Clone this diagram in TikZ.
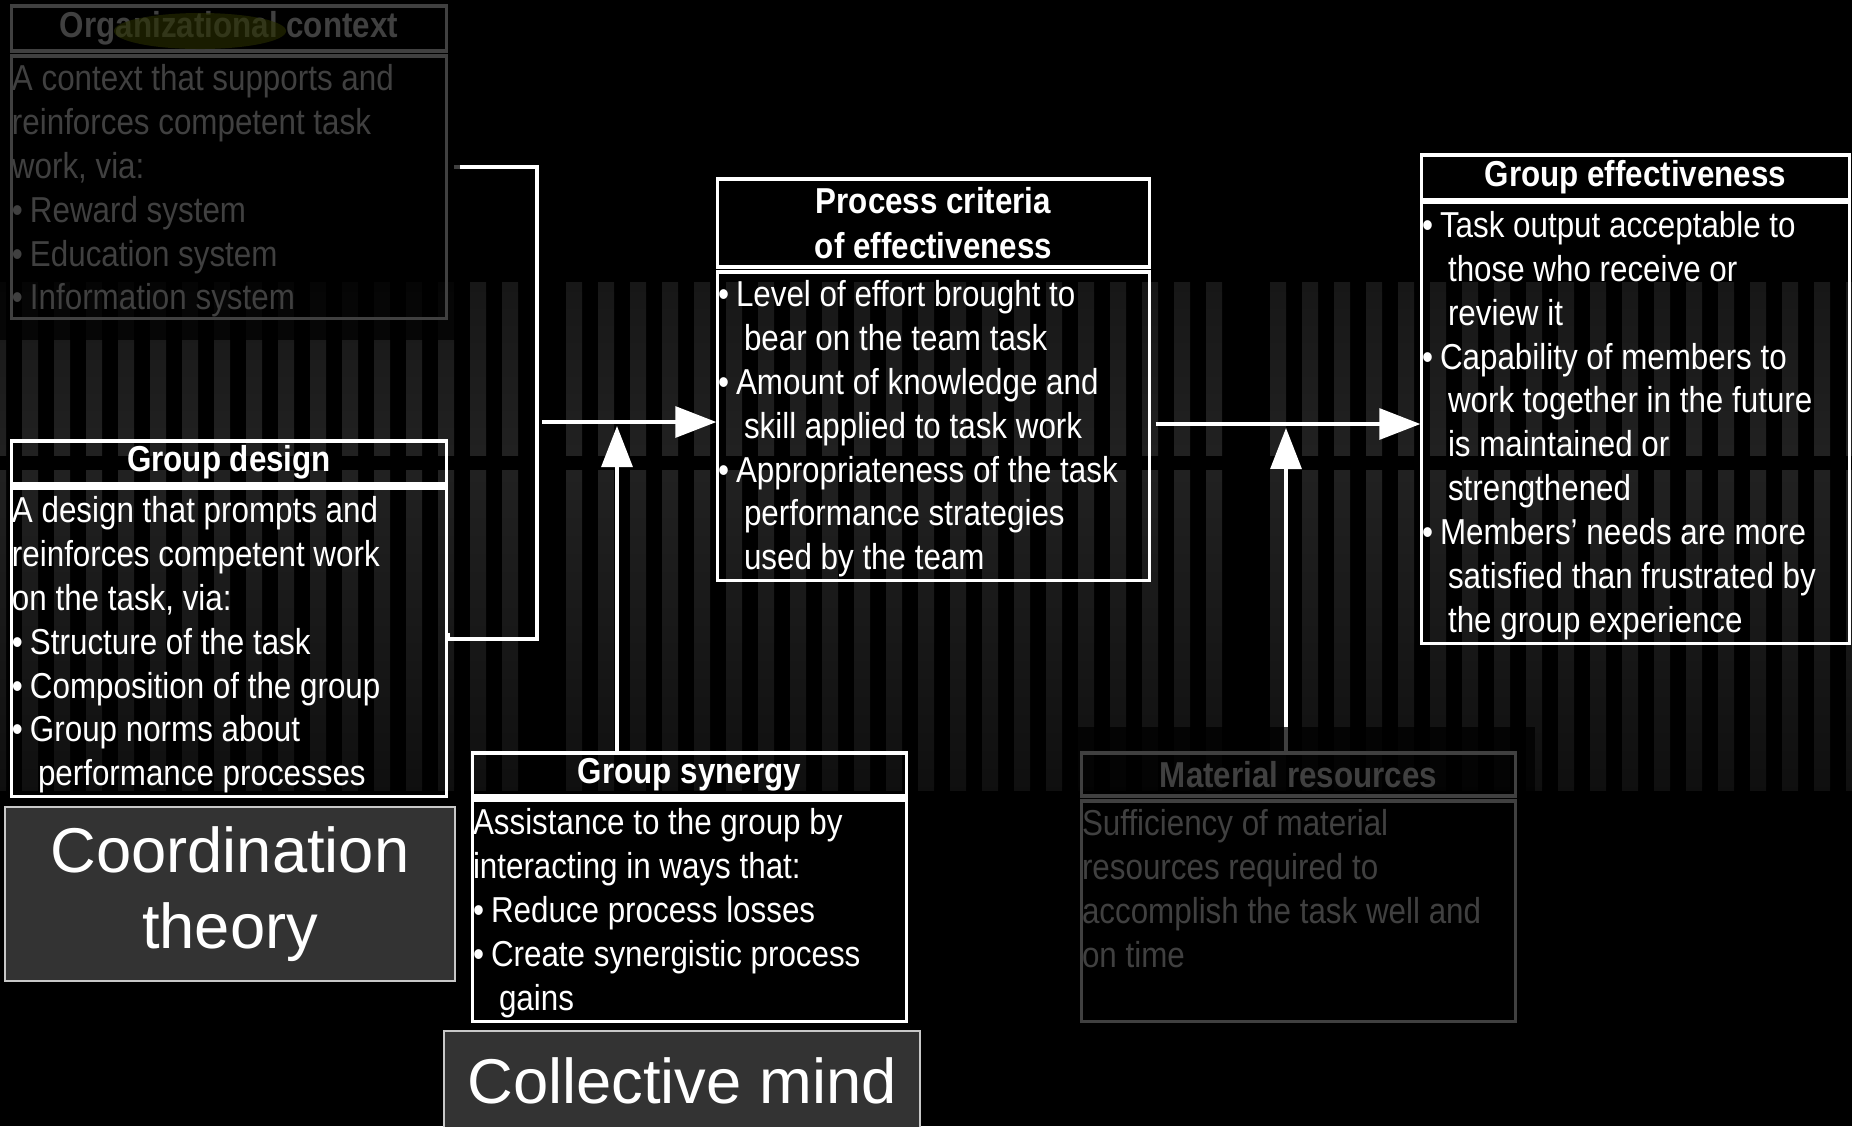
\documentclass[tikz,border=0pt]{standalone}
\usepackage{fontspec}
\setmainfont{Liberation Sans}[FakeStretch=0.87]
\newfontfamily\wideface{Liberation Sans}
\usetikzlibrary{arrows.meta}
\definecolor{panelgray}{HTML}{333333}
\definecolor{panelline}{HTML}{C8C8C8}
\definecolor{marker}{HTML}{A8C000}
\newcommand{\itemdot}{\makebox[1.8mm][l]{\textbullet}}
\newcommand{\itemgap}{\hspace*{2.6mm}}

\begin{document}
\begin{tikzpicture}[x=0.01cm,y=-0.01cm]

    \tikzset{
      hdr/.style={
        draw=white,
        line width=0.9pt,
        inner sep=0pt,
        text=white,
        align=center,
        font=\fontsize{10.25}{12.75}\selectfont\bfseries,
      },
      bodybox/.style={
        draw=white,
        line width=0.9pt,
        inner sep=0pt,
      },
      txt/.style={
        text=white,
        align=left,
        inner sep=0pt,
        anchor=north west,
        font=\fontsize{10.25}{12.5}\selectfont,
      },
      panel/.style={
        fill=panelgray,
        draw=panelline,
        line width=0.4pt,
        text=white,
        align=center,
        font=\wideface\fontsize{18}{21.8}\selectfont,
      },
      wire/.style={draw=white, line width=0.9pt},
      arr/.style={wire, -{Triangle[length=0.41cm,width=0.31cm]}},
    }
    \useasboundingbox (0,0) rectangle (1852,1126);
    \fill[black] (0,0) rectangle (1852,1126);
    \clip (0,0) rectangle (1852,1126);

    % striped backdrop
    \foreach \k in {-1,...,57}{
      \ifnum\k=16 \else\ifnum\k=38 \else
        \shade[top color=black!91, bottom color=black!87] (22+32*\k,282) rectangle ++(16,173);
        \shade[top color=black!87, bottom color=black!94] (22+32*\k,470) rectangle ++(16,320);
      \fi\fi
    }

    \node[hdr, minimum width=4.34cm, minimum height=0.45cm] (oc-title) at (229,28.5) {Organizational context};
    \node[bodybox, minimum width=4.34cm, minimum height=2.62cm] (oc-body) at (229,187) {};
    \node[txt] (oc-text) at ([shift={(1,9)}]oc-body.north west) {A context that supports and\\reinforces competent task\\work, via:\\\itemdot Reward system\\\itemdot Education system\\\itemdot Information system};

    \node[hdr, minimum width=4.34cm, minimum height=0.43cm] (gd-title) at (229,462.5) {Group design};
    \node[bodybox, minimum width=4.34cm, minimum height=3.08cm] (gd-body) at (229,642) {};
    \node[txt] (gd-text) at ([shift={(1,9)}]gd-body.north west) {A design that prompts and\\reinforces competent work\\on the task, via:\\\itemdot Structure of the task\\\itemdot Composition of the group\\\itemdot Group norms about\\\itemgap performance processes};

    \node[hdr, minimum width=4.31cm, minimum height=0.88cm] (pc-title) at (933.5,223) {Process criteria\\of effectiveness};
    \node[bodybox, minimum width=4.31cm, minimum height=3.08cm] (pc-body) at (933.5,426) {};
    \node[txt] (pc-text) at ([shift={(1,9)}]pc-body.north west) {\itemdot Level of effort brought to\\\itemgap bear on the team task\\\itemdot Amount of knowledge and\\\itemgap skill applied to task work\\\itemdot Appropriateness of the task\\\itemgap performance strategies\\\itemgap used by the team};

    \node[hdr, minimum width=4.27cm, minimum height=0.45cm] (ge-title) at (1635.5,177.5) {Group effectiveness};
    \node[bodybox, minimum width=4.27cm, minimum height=4.40cm] (ge-body) at (1635.5,423) {};
    \node[txt] (ge-text) at ([shift={(1,9)}]ge-body.north west) {\itemdot Task output acceptable to\\\itemgap those who receive or\\\itemgap review it\\\itemdot Capability of members to\\\itemgap work together in the future\\\itemgap is maintained or\\\itemgap strengthened\\\itemdot Members’ needs are more\\\itemgap satisfied than frustrated by\\\itemgap the group experience};

    \node[hdr, minimum width=4.33cm, minimum height=0.43cm] (gs-title) at (689.5,774.5) {Group synergy};
    \node[bodybox, minimum width=4.33cm, minimum height=2.21cm] (gs-body) at (689.5,910.5) {};
    \node[txt] (gs-text) at ([shift={(1,9)}]gs-body.north west) {Assistance to the group by\\interacting in ways that:\\\itemdot Reduce process losses\\\itemdot Create synergistic process\\\itemgap gains};

    \node[hdr, minimum width=4.33cm, minimum height=0.43cm] (mr-title) at (1298.5,774.5) {Material resources};
    \node[bodybox, minimum width=4.33cm, minimum height=2.20cm] (mr-body) at (1298.5,911) {};
    \node[txt] (mr-text) at ([shift={(1,9)}]mr-body.north west) {Sufficiency of material\\resources required to\\accomplish the task well and\\on time};

    \node[panel, minimum width=4.50cm, minimum height=1.74cm] (ct-box) at (230,894) {Coordination\\theory};
    \node[panel, minimum width=4.76cm, minimum height=1.00cm] (cm-box) at (682,1081) {Collective mind};

    \coordinate (brk-start) at (454,167);
    \coordinate (brk-top) at (537,167);
    \coordinate (brk-bot) at (537,639);
    \coordinate (brk-end) at (448,639);
    \coordinate (in-a) at (617,422);
    \coordinate (in-b) at (1286,424);

    \draw[wire] (brk-start) -- (brk-top) -- (brk-bot) -- (brk-end) -- ++(0,-6);
    \draw[arr] (brk-top |- in-a) ++(5,0) -- (pc-body.west |- in-a);
    \draw[arr] (gs-title.north -| in-a) -- ([yshift=-0.04cm]in-a);
    \draw[arr] (pc-body.east |- in-b) ++(5,0) -- (ge-body.west |- in-b);
    \draw[arr] (mr-title.north -| in-b) -- ([yshift=-0.04cm]in-b);

    % highlighter stroke, then the dimming veils
    \fill[marker, opacity=0.6] (200,31) ellipse [x radius=0.86cm, y radius=0.18cm];
    \fill[black, opacity=0.75] (0,0) rectangle (460,340);
    \fill[black, opacity=0.75] (1069,727) rectangle (1535,1030);

\end{tikzpicture}
\end{document}
